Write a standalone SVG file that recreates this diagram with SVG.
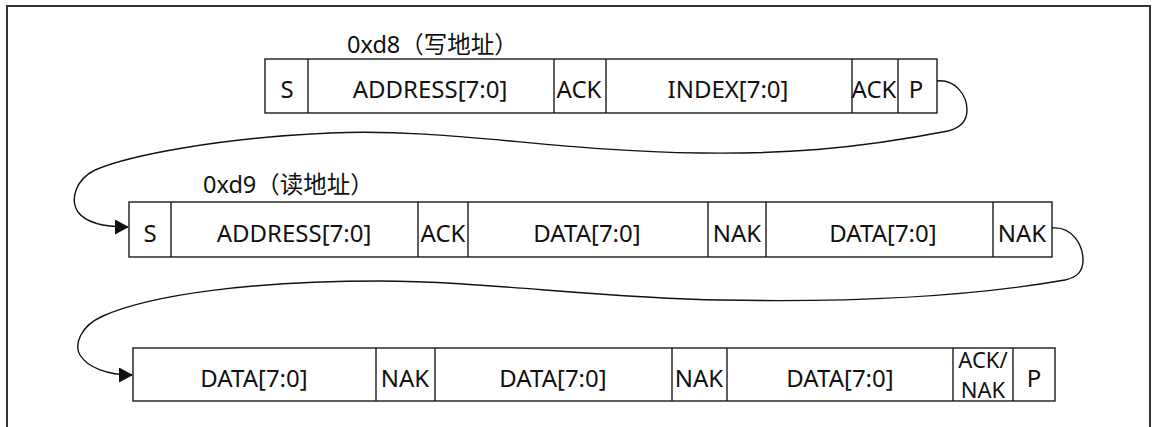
<svg xmlns="http://www.w3.org/2000/svg" width="1156" height="427" viewBox="0 0 1156 427">
<defs>
<style>
.box{fill:#fff;stroke:#1a1a1a;stroke-width:1.4}
.div{stroke:#1a1a1a;stroke-width:1.4}
.t{font-family:"Noto Sans","Noto Sans CJK SC",sans-serif;font-size:24px;fill:#111;text-anchor:middle}
.t2{font-family:"Noto Sans","Noto Sans CJK SC",sans-serif;font-size:22px;fill:#111;text-anchor:middle}
.ttl{font-family:"Noto Sans","Noto Sans CJK SC",sans-serif;font-size:23.5px;fill:#111}
.con{fill:none;stroke:#111;stroke-width:1.4}
</style>
<marker id="arr" viewBox="0 0 14 15" refX="13" refY="7.5" markerWidth="14" markerHeight="15" markerUnits="userSpaceOnUse" orient="auto">
<path d="M0,0 L14,7.5 L0,15 Z" fill="#111"/>
</marker>
</defs>
<rect x="0" y="0" width="1156" height="427" fill="#fff"/>
<rect x="7" y="6" width="1143" height="430" fill="none" stroke="#333" stroke-width="2"/>

<g id="row1">
<text class="ttl" x="347" y="53">0xd8（写地址）</text>
<rect class="box" x="265" y="59" width="672" height="54"/>
<line class="div" x1="308" y1="59" x2="308" y2="113"/>
<line class="div" x1="554" y1="59" x2="554" y2="113"/>
<line class="div" x1="606" y1="59" x2="606" y2="113"/>
<line class="div" x1="852" y1="59" x2="852" y2="113"/>
<line class="div" x1="898" y1="59" x2="898" y2="113"/>
<text class="t" x="287" y="98">S</text>
<text class="t" x="430" y="98">ADDRESS[7:0]</text>
<text class="t" x="579" y="98">ACK</text>
<text class="t" x="728" y="98">INDEX[7:0]</text>
<text class="t" x="874" y="98">ACK</text>
<text class="t" x="916" y="98">P</text>
</g>

<g id="row2">
<text class="ttl" x="203" y="193">0xd9（读地址）</text>
<rect class="box" x="129" y="202" width="923" height="55"/>
<line class="div" x1="171" y1="202" x2="171" y2="257"/>
<line class="div" x1="418" y1="202" x2="418" y2="257"/>
<line class="div" x1="468" y1="202" x2="468" y2="257"/>
<line class="div" x1="708" y1="202" x2="708" y2="257"/>
<line class="div" x1="766" y1="202" x2="766" y2="257"/>
<line class="div" x1="993" y1="202" x2="993" y2="257"/>
<text class="t" x="150" y="242">S</text>
<text class="t" x="294" y="242">ADDRESS[7:0]</text>
<text class="t" x="443" y="242">ACK</text>
<text class="t" x="587" y="242">DATA[7:0]</text>
<text class="t" x="737" y="242">NAK</text>
<text class="t" x="883" y="242">DATA[7:0]</text>
<text class="t" x="1022" y="242">NAK</text>
</g>

<g id="row3">
<rect class="box" x="133" y="348" width="922" height="53"/>
<line class="div" x1="376" y1="348" x2="376" y2="401"/>
<line class="div" x1="435" y1="348" x2="435" y2="401"/>
<line class="div" x1="672" y1="348" x2="672" y2="401"/>
<line class="div" x1="727" y1="348" x2="727" y2="401"/>
<line class="div" x1="953" y1="348" x2="953" y2="401"/>
<line class="div" x1="1013" y1="348" x2="1013" y2="401"/>
<text class="t" x="254" y="387">DATA[7:0]</text>
<text class="t" x="405" y="387">NAK</text>
<text class="t" x="553" y="387">DATA[7:0]</text>
<text class="t" x="699" y="387">NAK</text>
<text class="t" x="840" y="387">DATA[7:0]</text>
<text class="t2" x="983" y="368">ACK/</text>
<text class="t2" x="983" y="398">NAK</text>
<text class="t" x="1034" y="387">P</text>
</g>

<g id="connectors">
<path class="con" marker-end="url(#arr)" d="M937,81 C955,79 967,95 967,110 C967,122 960,128 948,131 C850,150 780,154 700,153 C550,151 450,128 330,133 C220,138 130,155 95,170 C75,180 70,200 78,212 C86,223 105,227 128,227"/>
<path class="con" marker-end="url(#arr)" d="M1052,228 C1072,226 1083,245 1083,260 C1083,272 1077,277 1065,280 C950,300 820,302 720,300 C600,298 480,281 380,281 C250,281 150,295 103,316 C80,326 74,345 80,355 C88,368 108,375 132,375"/>
</g>
</svg>
